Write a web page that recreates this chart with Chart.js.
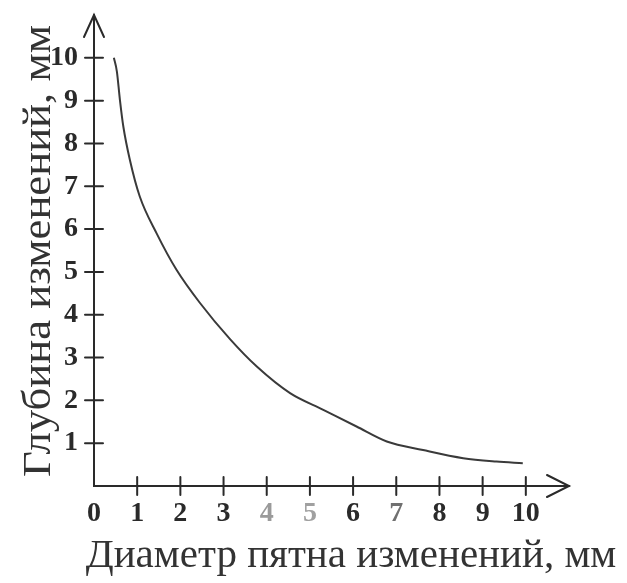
<!DOCTYPE html>
<html>
<head>
<meta charset="utf-8">
<script src="https://cdn.jsdelivr.net/npm/chart.js@4/dist/chart.umd.min.js"></script>
<style>
  html, body { margin: 0; padding: 0; background: #fff; }
  #wrap { width: 627px; height: 583px; position: relative; }
</style>
</head>
<body>
<div id="wrap"><canvas id="c" width="627" height="583"></canvas></div>
<script>
// Data
const diameter = [0.46, 0.53, 0.60, 0.68, 0.83, 1.06, 1.45, 1.91, 2.45, 3.15, 3.77, 4.54, 5.31, 6.08, 6.78, 7.62, 8.55, 9.32, 9.93];
const depth    = [10.0, 9.68, 9.02, 8.39, 7.62, 6.76, 5.90, 5.05, 4.28, 3.43, 2.79, 2.17, 1.78, 1.39, 1.04, 0.84, 0.65, 0.57, 0.53];
const xTickValues = [0, 1, 2, 3, 4, 5, 6, 7, 8, 9, 10];
const yTickValues = [1, 2, 3, 4, 5, 6, 7, 8, 9, 10];
const xTitle = 'Диаметр пятна изменений, мм';
const yTitle = 'Глубина изменений, мм';

const points = diameter.map((d, i) => ({ x: d, y: depth[i] }));

const INK = '#2a2a2a';
const FAINT = { 4: '#9a9a9a', 5: '#a0a0a0', 7: '#707070' };

const axesPlugin = {
  id: 'axesPlugin',
  afterDraw(chart) {
    const ctx = chart.ctx;
    const xs = chart.scales.x, ys = chart.scales.y;
    const x0 = xs.getPixelForValue(0), y0 = ys.getPixelForValue(0);
    const xEnd = xs.getPixelForValue(xs.max), yEnd = ys.getPixelForValue(ys.max);
    ctx.save();
    ctx.strokeStyle = INK;
    ctx.lineWidth = 2;
    ctx.lineCap = 'round';
    // axis lines
    ctx.beginPath();
    ctx.moveTo(x0, yEnd);
    ctx.lineTo(x0, y0);
    ctx.lineTo(xEnd, y0);
    ctx.stroke();
    // arrow heads
    ctx.beginPath();
    ctx.moveTo(x0 - 10, yEnd + 22);
    ctx.lineTo(x0, yEnd);
    ctx.lineTo(x0 + 10, yEnd + 22);
    ctx.moveTo(xEnd - 22, y0 - 11);
    ctx.lineTo(xEnd, y0);
    ctx.lineTo(xEnd - 22, y0 + 11);
    ctx.stroke();
    // tick marks crossing the axes
    ctx.beginPath();
    xTickValues.filter(v => v > 0).forEach(v => {
      const px = xs.getPixelForValue(v);
      ctx.moveTo(px, y0 - 9);
      ctx.lineTo(px, y0 + 9);
    });
    yTickValues.forEach(v => {
      const py = ys.getPixelForValue(v);
      ctx.moveTo(x0 - 9, py);
      ctx.lineTo(x0 + 9, py);
    });
    ctx.stroke();
    // axis titles
    ctx.fillStyle = '#333';
    ctx.font = '41px "Liberation Serif"';
    ctx.textAlign = 'center';
    ctx.textBaseline = 'alphabetic';
    ctx.fillText(xTitle, 351, 567);
    ctx.save();
    ctx.translate(50, 251);
    ctx.rotate(-Math.PI / 2);
    ctx.font = '39px "Liberation Serif"';
    const w = ctx.measureText(yTitle).width;
    ctx.scale(452 / w, 1);
    ctx.fillText(yTitle, 0, 0);
    ctx.restore();
    ctx.restore();
  }
};

new Chart(document.getElementById('c'), {
  type: 'scatter',
  data: {
    datasets: [{
      data: points,
      showLine: true,
      borderColor: '#3a3a3a',
      borderWidth: 2,
      pointRadius: 0,
      cubicInterpolationMode: 'monotone',
      fill: false
    }]
  },
  options: {
    responsive: false,
    animation: false,
    layout: { padding: { top: 15, right: 58, left: 0, bottom: 0 } },
    plugins: { legend: { display: false }, tooltip: { enabled: false } },
    scales: {
      x: {
        type: 'linear',
        min: 0, max: 11,
        afterFit: s => { s.height = 97; s.paddingLeft = 0; s.paddingRight = 0; },
        afterBuildTicks: s => { s.ticks = xTickValues.map(v => ({ value: v })); },
        border: { display: false },
        grid: { display: false, drawTicks: false },
        ticks: {
          autoSkip: false, maxRotation: 0, padding: 11,
          font: { family: 'Liberation Serif', weight: 'bold', size: 28 },
          color: c => FAINT[c.tick.value] || INK,
          callback: v => String(v)
        }
      },
      y: {
        type: 'linear',
        min: 0, max: 11,
        afterFit: s => { s.width = 94; s.paddingTop = 0; s.paddingBottom = 0; },
        afterBuildTicks: s => { s.ticks = yTickValues.map(v => ({ value: v })); },
        border: { display: false },
        grid: { display: false, drawTicks: false },
        ticks: {
          autoSkip: false, padding: 16,
          font: { family: 'Liberation Serif', weight: 'bold', size: 28 },
          color: INK,
          callback: v => String(v)
        }
      }
    }
  },
  plugins: [axesPlugin]
});
</script>
</body>
</html>
